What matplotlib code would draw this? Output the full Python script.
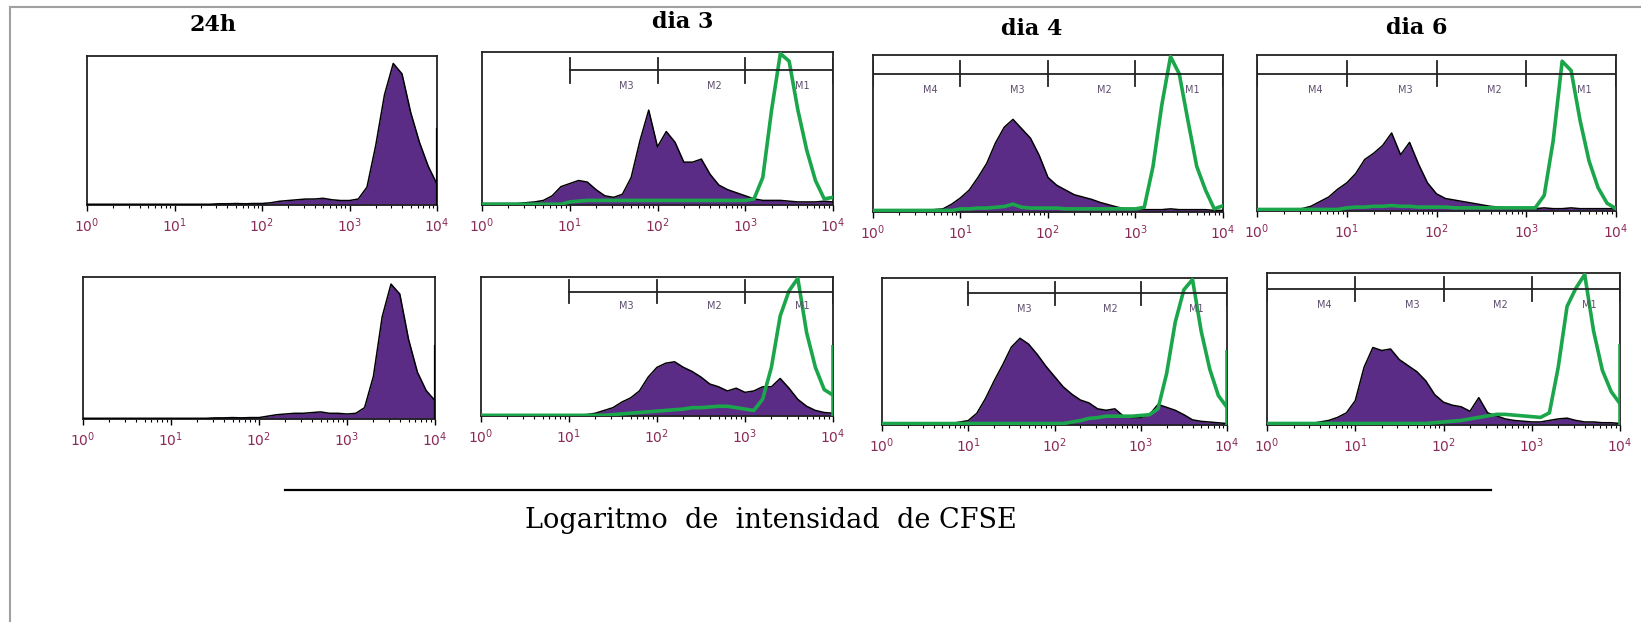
import numpy as np
import matplotlib
matplotlib.use("Agg")
import matplotlib.pyplot as plt
from matplotlib.lines import Line2D
from matplotlib.ticker import LogLocator, FixedFormatter

# log10 channel of CFSE intensity, one value per 0.1 decade
log_channel = [0.0, 0.1, 0.2, 0.3, 0.4, 0.5, 0.6, 0.7, 0.8, 0.9,
               1.0, 1.1, 1.2, 1.3, 1.4, 1.5, 1.6, 1.7, 1.8, 1.9,
               2.0, 2.1, 2.2, 2.3, 2.4, 2.5, 2.6, 2.7, 2.8, 2.9,
               3.0, 3.1, 3.2, 3.3, 3.4, 3.5, 3.6, 3.7, 3.8, 3.9, 4.0]

# counts in % of panel height (purple = sample, green = undivided control)
h24_top = [0.5, 0.5, 0.5, 0.5, 0.5, 0.5, 0.5, 0.5, 0.5, 0.5,
           0.5, 0.5, 0.5, 0.5, 0.5, 0.8, 0.8, 1, 0.8, 1,
           1, 1.5, 2.5, 3, 3.5, 4, 4, 4.5, 3.5, 3,
           3, 4, 12, 40, 74, 95, 88, 62, 42, 26, 14]
h24_bot = [0.5, 0.5, 0.5, 0.5, 0.5, 0.5, 0.5, 0.5, 0.5, 0.5,
           0.5, 0.5, 0.5, 0.5, 0.5, 0.8, 0.8, 1, 0.8, 1,
           1, 2, 3, 3.5, 4, 4, 4.5, 5, 4, 4,
           3.5, 4, 8, 30, 72, 95, 88, 56, 33, 20, 13]

d3_top = [1, 1, 1, 1, 1, 1.5, 2, 3, 6, 12,
          14, 16, 15, 10, 6, 5, 7, 18, 42, 62,
          38, 48, 41, 28, 28, 30, 20, 13, 10, 8,
          6, 4, 3, 3, 3, 2.5, 2, 2, 2, 2.5, 2]
d3_top_ctrl = [0.5, 0.5, 0.5, 0.5, 0.5, 0.5, 0.5, 0.5, 0.5, 0.5,
               2, 2.5, 3, 3, 3, 3, 3, 3, 3, 3,
               3, 3, 3, 3, 3, 3, 3, 3, 3, 3,
               3, 4, 18, 62, 99, 94, 62, 36, 16, 4, 5]

d4_top = [1, 1, 1, 1, 1, 1, 1, 1.5, 2, 5,
          9, 14, 22, 31, 44, 54, 59, 53, 47, 36,
          22, 17, 14, 11, 9.5, 8, 6, 4.5, 3, 2,
          1.5, 1.5, 1.5, 1.5, 2, 1.5, 1.5, 1.5, 1.5, 1, 1]
d4_top_ctrl = [1, 1, 1, 1, 1, 1, 1, 1, 1, 1,
               2, 2, 2.5, 2.5, 3, 3.5, 5, 3, 2.5, 2.5,
               2.5, 2.5, 2, 2, 2, 2, 2, 2, 2, 2,
               2, 3, 29, 68, 99, 88, 58, 29, 14, 2, 4]

d6_top = [1, 1, 1, 1, 1, 1.5, 3, 6, 9, 14,
          18, 24, 33, 37, 42, 50, 36, 44, 30, 18,
          11, 8, 7, 6, 5, 4, 3, 2.5, 2, 2,
          1.5, 1.5, 2, 1.5, 1.5, 2, 1.5, 1.5, 1.5, 1.5, 1.5]
d6_top_ctrl = [1, 1, 1, 1, 1, 1, 1, 1, 1, 1,
               2, 2.5, 2.5, 3, 3, 3.5, 3, 3, 2.5, 2.5,
               2.5, 2.5, 2, 2, 2, 2, 2, 2, 2, 2,
               2, 2, 10, 45, 96, 90, 58, 32, 15, 5, 1.5]

d3_bot = [0.5, 0.5, 0.5, 0.5, 0.5, 0.5, 0.5, 0.5, 0.5, 0.5,
          0.5, 0.5, 1, 2, 4, 6, 10, 13, 18, 28,
          35, 38, 39, 35, 32, 28, 23, 21, 18, 20,
          17, 18, 21, 21, 27, 20, 12, 7, 4, 2.5, 2]
d3_bot_ctrl = [0.5, 0.5, 0.5, 0.5, 0.5, 0.5, 0.5, 0.5, 0.5, 0.5,
               0.5, 0.5, 0.5, 0.5, 0.5, 1, 1.5, 2, 2.5, 3,
               3.5, 4, 4.5, 5, 6, 6, 6.5, 7, 7, 6,
               5, 4, 12, 35, 72, 90, 99, 60, 35, 19, 15]

d4_bot = [1, 1, 1, 1, 1, 1, 1, 1, 1, 2,
          3, 8, 18, 30, 41, 53, 59, 55, 48, 40,
          33, 26, 21, 17, 15, 11, 10, 11, 6, 5,
          5, 7, 14, 12, 10, 7, 3.5, 2.5, 2, 1.5, 1]
d4_bot_ctrl = [1, 1, 1, 1, 1, 1, 1, 1, 1, 1,
               1, 1, 1, 1, 1, 1, 1, 1, 1, 1,
               1, 1, 2, 3, 4.5, 5, 6, 6, 6, 6,
               6.5, 7, 11, 35, 70, 92, 99, 64, 38, 20, 12]

d6_bot = [1, 1, 1, 1, 1, 1, 2, 3, 5, 8,
          16, 38, 51, 49, 50, 43, 39, 35, 29, 20,
          15, 13, 12, 9, 18, 8, 6, 4, 3, 2.5,
          2, 2, 3, 4, 4.5, 3, 2, 2, 1.5, 1.5, 1]
d6_bot_ctrl = [1, 1, 1, 1, 1, 1, 1, 1, 1, 1,
               1, 1, 1, 1, 1, 1, 1, 1, 1, 1.5,
               2, 2.5, 3, 4, 5, 6, 7, 7, 6.5, 6,
               5.5, 5, 8, 38, 78, 90, 99, 62, 36, 22, 14]

# pile-up in the last channel (vertical line at 10^4)
edge_sample = {"h24_top": 52, "h24_bot": 52}
edge_ctrl = {"d3_bot": 51, "d4_bot": 51, "d6_bot": 53}

titles = ["24h", "dia 3", "dia 4", "dia 6"]
marker_names = ["M4", "M3", "M2", "M1"]
tick_labels = [r"$10^0$", r"$10^1$", r"$10^2$", r"$10^3$", r"$10^4$"]
xlabel = "Logaritmo  de  intensidad  de CFSE"

PURPLE = "#5a2c86"
GREEN = "#1ba64b"
MAROON = "#8a2a58"

W, H = 1641, 622
fig = plt.figure(figsize=(W / 100, H / 100), dpi=100)

# (key, sample, control, marker bounds, pixel box x0, x1, y_top, y_bottom)
panels = [
    ("h24_top", h24_top, None, None, 87, 437, 56, 205),
    ("d3_top", d3_top, d3_top_ctrl, [1, 2, 3, 4], 482, 833, 52, 205),
    ("d4_top", d4_top, d4_top_ctrl, [0, 1, 2, 3, 4], 873, 1223, 55, 212),
    ("d6_top", d6_top, d6_top_ctrl, [0, 1, 2, 3, 4], 1257, 1616, 55, 211),
    ("h24_bot", h24_bot, None, None, 83, 435, 277, 419),
    ("d3_bot", d3_bot, d3_bot_ctrl, [1, 2, 3, 4], 481, 833, 277, 416),
    ("d4_bot", d4_bot, d4_bot_ctrl, [1, 2, 3, 4], 882, 1227, 278, 425),
    ("d6_bot", d6_bot, d6_bot_ctrl, [0, 1, 2, 3, 4], 1267, 1620, 273, 425),
]

x = 10 ** np.array(log_channel)

for key, sample, ctrl, bounds, x0, x1, yt, yb in panels:
    ax = fig.add_axes([x0 / W, 1 - yb / H, (x1 - x0) / W, (yb - yt) / H])
    ax.set_xscale("log")
    ax.set_xlim(1, 1e4)
    ax.set_ylim(0, 100)

    ax.fill_between(x, 0, sample, color=PURPLE, lw=0, zorder=2)
    ax.plot(x, sample, color="black", lw=1.1, zorder=3)
    if key in edge_sample:
        ax.vlines(1e4, 0, edge_sample[key], color="black", lw=1.6, zorder=3)
    if ctrl is not None:
        ax.plot(x, ctrl, color=GREEN, lw=2.6, zorder=4, solid_joinstyle="round")
        if key in edge_ctrl:
            ax.vlines(1e4, 0, edge_ctrl[key], color=GREEN, lw=2.6, zorder=4)

    if bounds is not None:
        level = 0.88 if key.endswith("top") else 0.895
        tr = ax.get_xaxis_transform()
        ax.plot([10 ** bounds[0], 10 ** bounds[-1]], [level, level],
                color="#222222", lw=1.3, transform=tr, zorder=5)
        for b in bounds:
            ax.plot([10 ** b, 10 ** b], [level - 0.08, level + 0.08],
                    color="#222222", lw=1.3, transform=tr, zorder=5)
        names = marker_names[-(len(bounds) - 1):]
        for b, name in zip(bounds[:-1], names):
            ax.text(10 ** (b + 0.65), level - 0.07, name, transform=tr,
                    ha="center", va="top", fontsize=7, color="#5e4e6e",
                    zorder=5)

    ax.set_yticks([])
    ax.set_xticks([1, 10, 100, 1000, 10000])
    ax.xaxis.set_major_formatter(FixedFormatter(tick_labels))
    ax.xaxis.set_minor_locator(LogLocator(base=10, subs=np.arange(2, 10), numticks=10))
    ax.xaxis.set_minor_formatter(plt.NullFormatter())
    ax.tick_params(axis="x", which="major", direction="out", length=4, width=1,
                   labelsize=10, labelcolor=MAROON, pad=4)
    ax.tick_params(axis="x", which="minor", direction="out", length=2, width=0.8)
    for sp in ax.spines.values():
        sp.set_linewidth(1.3)
        sp.set_color("#222222")

title_pos = [(213, 25), (683, 22), (1032, 29), (1417, 28)]
for t, (tx, ty) in zip(titles, title_pos):
    fig.text(tx / W, 1 - ty / H, t, ha="center", va="center",
             fontsize=16, fontweight="bold", family="DejaVu Serif")

# bracket line and common x label
fig.add_artist(Line2D([285 / W, 1491 / W], [1 - 490 / H, 1 - 490 / H],
                      color="black", lw=1.6))
fig.text(771 / W, 1 - 520 / H, xlabel, ha="center", va="center",
         fontsize=19.5, family="DejaVu Serif")

# grey frame of the original figure
fig.add_artist(Line2D([9.5 / W, 9.5 / W], [0, 1 - 7 / H], color="#a0a0a0", lw=1.5))
fig.add_artist(Line2D([9.5 / W, 1], [1 - 7 / H, 1 - 7 / H], color="#a0a0a0", lw=1.5))

fig.savefig("out.png", dpi=100)
